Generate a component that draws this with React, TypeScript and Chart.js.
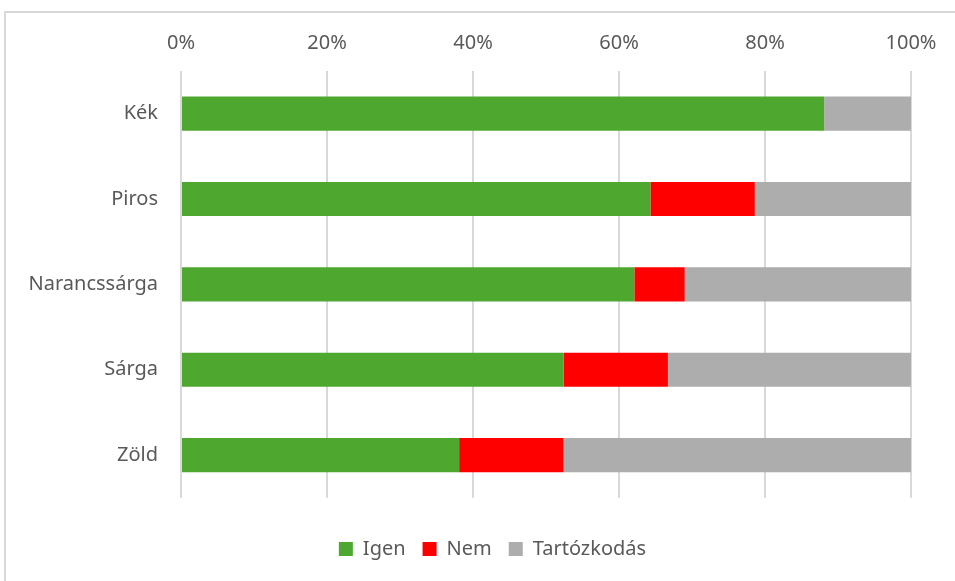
import React, { useEffect, useRef } from "react";
import { Chart, registerables } from "chart.js";

Chart.register(...registerables);

const categories = ["Kék", "Piros", "Narancssárga", "Sárga", "Zöld"];
const igen = [88.1, 64.3, 62.1, 52.4, 38.1];
const nem = [0, 14.3, 6.9, 14.3, 14.3];
const tartozkodas = [11.9, 21.4, 31.0, 33.3, 47.6];
const xTicks = [0, 20, 40, 60, 80, 100];

const FONT = "'Noto Sans', sans-serif";
const TEXT = "#595959";

const shiftLegend = {
  id: "shiftLegend",
  afterLayout(chart: any) {
    const lg = chart.legend;
    if (lg) {
      lg.left += 27;
      lg.right += 27;
    }
  },
};

export default function App() {
  const ref = useRef<HTMLCanvasElement | null>(null);
  useEffect(() => {
    if (!ref.current) return;
    const chart = new Chart(ref.current, {
      type: "bar",
      data: {
        labels: categories,
        datasets: [
          { label: "Igen", data: igen, backgroundColor: "#4EA72E" },
          { label: "Nem", data: nem, backgroundColor: "#FF0000" },
          { label: "Tartózkodás", data: tartozkodas, backgroundColor: "#ADADAD" },
        ],
      },
      options: {
        indexAxis: "y",
        animation: false,
        responsive: false,
        maintainAspectRatio: false,
        datasets: { bar: { categoryPercentage: 1, barPercentage: 0.4 } },
        layout: { padding: { top: 15, left: 20, right: 44, bottom: 12 } },
        scales: {
          x: {
            position: "top",
            stacked: true,
            min: 0,
            max: 100,
            afterBuildTicks: (axis: any) => {
              axis.ticks = xTicks.map((v) => ({ value: v }));
            },
            ticks: {
              callback: (v: any) => v + "%",
              color: TEXT,
              font: { family: FONT, size: 20 },
              padding: 16,
            },
            grid: { color: "#D9D9D9", lineWidth: 2, drawTicks: false },
            border: { display: false },
          },
          y: {
            stacked: true,
            afterFit: (axis: any) => {
              axis.width = 161;
            },
            ticks: {
              color: TEXT,
              font: { family: FONT, size: 20 },
              padding: 15,
            },
            grid: { display: false },
            border: { display: false },
          },
        },
        plugins: {
          legend: {
            position: "bottom",
            title: { display: true, text: " ", font: { size: 1 }, padding: { top: 0, bottom: 23 } },
            labels: {
              color: TEXT,
              font: { family: FONT, size: 20 },
              boxWidth: 14,
              boxHeight: 14,
              padding: 17,
            },
          },
          tooltip: { enabled: false },
        },
      },
      plugins: [shiftLegend],
    });
    return () => chart.destroy();
  }, []);
  return (
    <div style={{ position: "absolute", left: 0, top: 0, width: 955, height: 581, overflow: "hidden", background: "#fff" }}>
      <div style={{ position: "absolute", left: 4, top: 11, width: 960, height: 580, border: "2px solid #D9D9D9", boxSizing: "border-box" }} />
      <canvas ref={ref} width={955} height={581} style={{ position: "absolute", left: 0, top: 0 }} />
    </div>
  );
}
